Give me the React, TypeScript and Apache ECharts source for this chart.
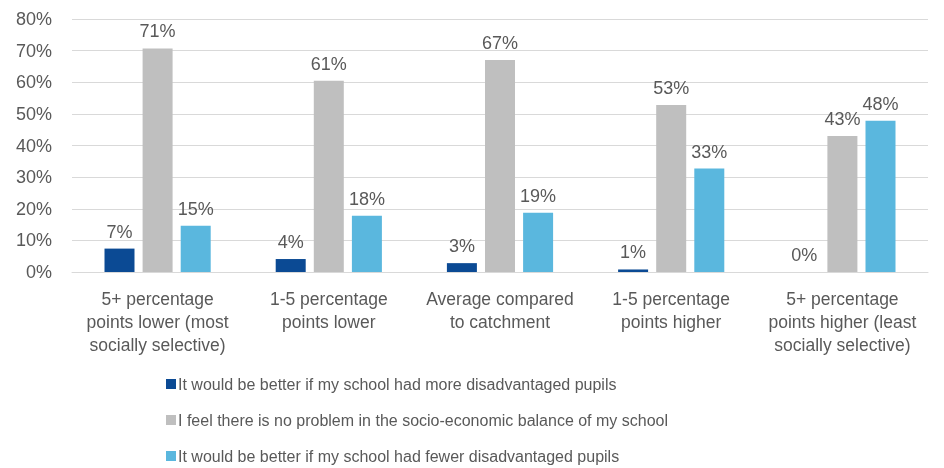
import React, { useEffect, useRef } from "react";
import * as echarts from "echarts";

const categories = [
  "5+ percentage\npoints lower (most\nsocially selective)",
  "1-5 percentage\npoints lower",
  "Average compared\nto catchment",
  "1-5 percentage\npoints higher",
  "5+ percentage\npoints higher (least\nsocially selective)",
];

const seriesNames = [
  "It would be better if my school had more disadvantaged pupils",
  "I feel there is no problem in the socio-economic balance of my school",
  "It would be better if my school had fewer disadvantaged pupils",
];

const moreDisadvantaged = [7.4, 4.1, 2.8, 0.8, 0];
const noProblem = [70.7, 60.5, 67.0, 52.8, 43.0];
const fewerDisadvantaged = [14.6, 17.8, 18.7, 32.7, 47.8];

const yTicks = [0, 10, 20, 30, 40, 50, 60, 70, 80];

const colors = ["#0b4a94", "#bfbfbf", "#5ab7de"];

const FONT = "'Liberation Sans', Arial, sans-serif";

export default function App() {
  const ref = useRef<HTMLDivElement>(null);
  useEffect(() => {
    if (!ref.current) return;
    const chart = echarts.init(ref.current, undefined, { renderer: "svg" });
    const label = {
      show: true,
      position: "top" as const,
      distance: 8,
      color: "#595959",
      fontSize: 18,
      fontFamily: FONT,
      formatter: (p: any) => Math.round(p.value) + "%",
    };
    const data = [moreDisadvantaged, noProblem, fewerDisadvantaged];
    chart.setOption({
      animation: false,
      textStyle: { fontFamily: FONT },
      grid: { left: 72, right: 16, top: 19, bottom: 196, containLabel: false },
      legend: {
        orient: "vertical",
        left: 161,
        top: 371,
        height: 97,
        itemWidth: 10,
        itemHeight: 10,
        itemGap: 20,
        icon: "rect",
        textStyle: { color: "#595959", fontSize: 16, fontFamily: FONT, padding: [0, 0, 0, -3] },
        data: seriesNames,
      },
      xAxis: {
        type: "category",
        data: categories,
        axisLine: { lineStyle: { color: "#d9d9d9", width: 1 } },
        axisTick: { show: false },
        axisLabel: {
          color: "#595959",
          fontSize: 17.5,
          fontFamily: FONT,
          lineHeight: 23,
          margin: 15,
          interval: 0,
        },
      },
      yAxis: {
        type: "value",
        min: yTicks[0],
        max: yTicks[yTicks.length - 1],
        interval: 10,
        axisLine: { show: false },
        axisTick: { show: false },
        splitLine: { lineStyle: { color: "#d9d9d9", width: 1 } },
        axisLabel: {
          color: "#595959",
          fontSize: 18,
          fontFamily: FONT,
          margin: 20,
          formatter: (v: number) => v + "%",
        },
      },
      series: seriesNames.map((name, i) => ({
        name,
        type: "bar",
        data: data[i],
        barWidth: 30,
        barGap: "27%",
        itemStyle: { color: colors[i] },
        label,
      })),
    });
    return () => chart.dispose();
  }, []);
  return (
    <div
      ref={ref}
      style={{ position: "fixed", left: 0, top: 0, width: 944, height: 468 }}
    />
  );
}
